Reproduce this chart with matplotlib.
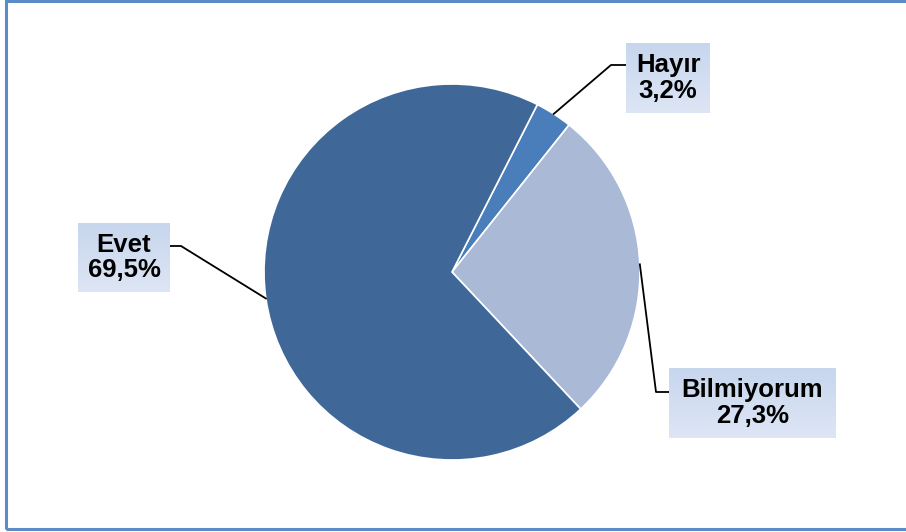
import matplotlib
matplotlib.use("Agg")
import matplotlib.pyplot as plt
import numpy as np
from matplotlib.patches import Rectangle

labels = ["Hayır", "Bilmiyorum", "Evet"]
values = [3.2, 27.3, 69.5]
colors = ["#4A7EBB", "#A9B9D6", "#3F6899"]

W, H = 906, 532
CX, CY, R = 452, H - 272, 188
START = 63  # degrees, clockwise from here

# label boxes (left, top, right, bottom in px) and leader elbows (px)
boxes = {"Hayır": (626, 43, 710, 113),
         "Bilmiyorum": (669, 368, 836, 438),
         "Evet": (78, 223, 170, 292)}
elbows = {"Hayır": [(611, 65), (626, 65)],
          "Bilmiyorum": [(656, 392), (669, 392)],
          "Evet": [(181, 246), (170, 246)]}

plt.rcParams["font.family"] = ["Liberation Sans", "DejaVu Sans"]
fig = plt.figure(figsize=(W / 100, H / 100), dpi=100)
ax = fig.add_axes([0, 0, 1, 1])

# outer frame
ax.add_patch(Rectangle((6, H - 529), W, 528, fill=False, ec="#5B8CC8", lw=2.2))

wedges, _ = ax.pie(values, colors=colors, startangle=START, counterclock=False,
                   center=(CX, CY), radius=R, frame=True,
                   wedgeprops=dict(edgecolor="white", linewidth=1.2))

grad = np.linspace(0, 1, 50).reshape(-1, 1)
top_c = np.array([0.78, 0.84, 0.93])
bot_c = np.array([0.87, 0.90, 0.96])
cum = 0
for lab, v in zip(labels, values):
    mid = np.deg2rad(START - (cum + v / 2) / 100 * 360)
    cum += v
    ex, ey = CX + R * np.cos(mid), CY + R * np.sin(mid)
    pts = [(ex, ey)] + [(x, H - y) for x, y in elbows[lab]]
    ax.plot([p[0] for p in pts], [p[1] for p in pts], color="black", lw=1.3, zorder=3)
    l, t, r, b = boxes[lab]
    img = top_c[None, None, :] * (1 - grad[:, :, None]) + bot_c[None, None, :] * grad[:, :, None]
    ax.imshow(img, extent=(l, r, H - b, H - t), origin="upper", aspect="auto", zorder=4)
    ax.text((l + r) / 2, H - (t + b) / 2, f"{lab}\n{v:.1f}%".replace(".", ","),
            ha="center", va="center", fontsize=18.5, fontweight="bold",
            linespacing=1.1, zorder=5)

ax.set_xlim(0, W)
ax.set_ylim(0, H)
ax.set_aspect("equal")
ax.axis("off")
fig.savefig("out.png", dpi=100)
